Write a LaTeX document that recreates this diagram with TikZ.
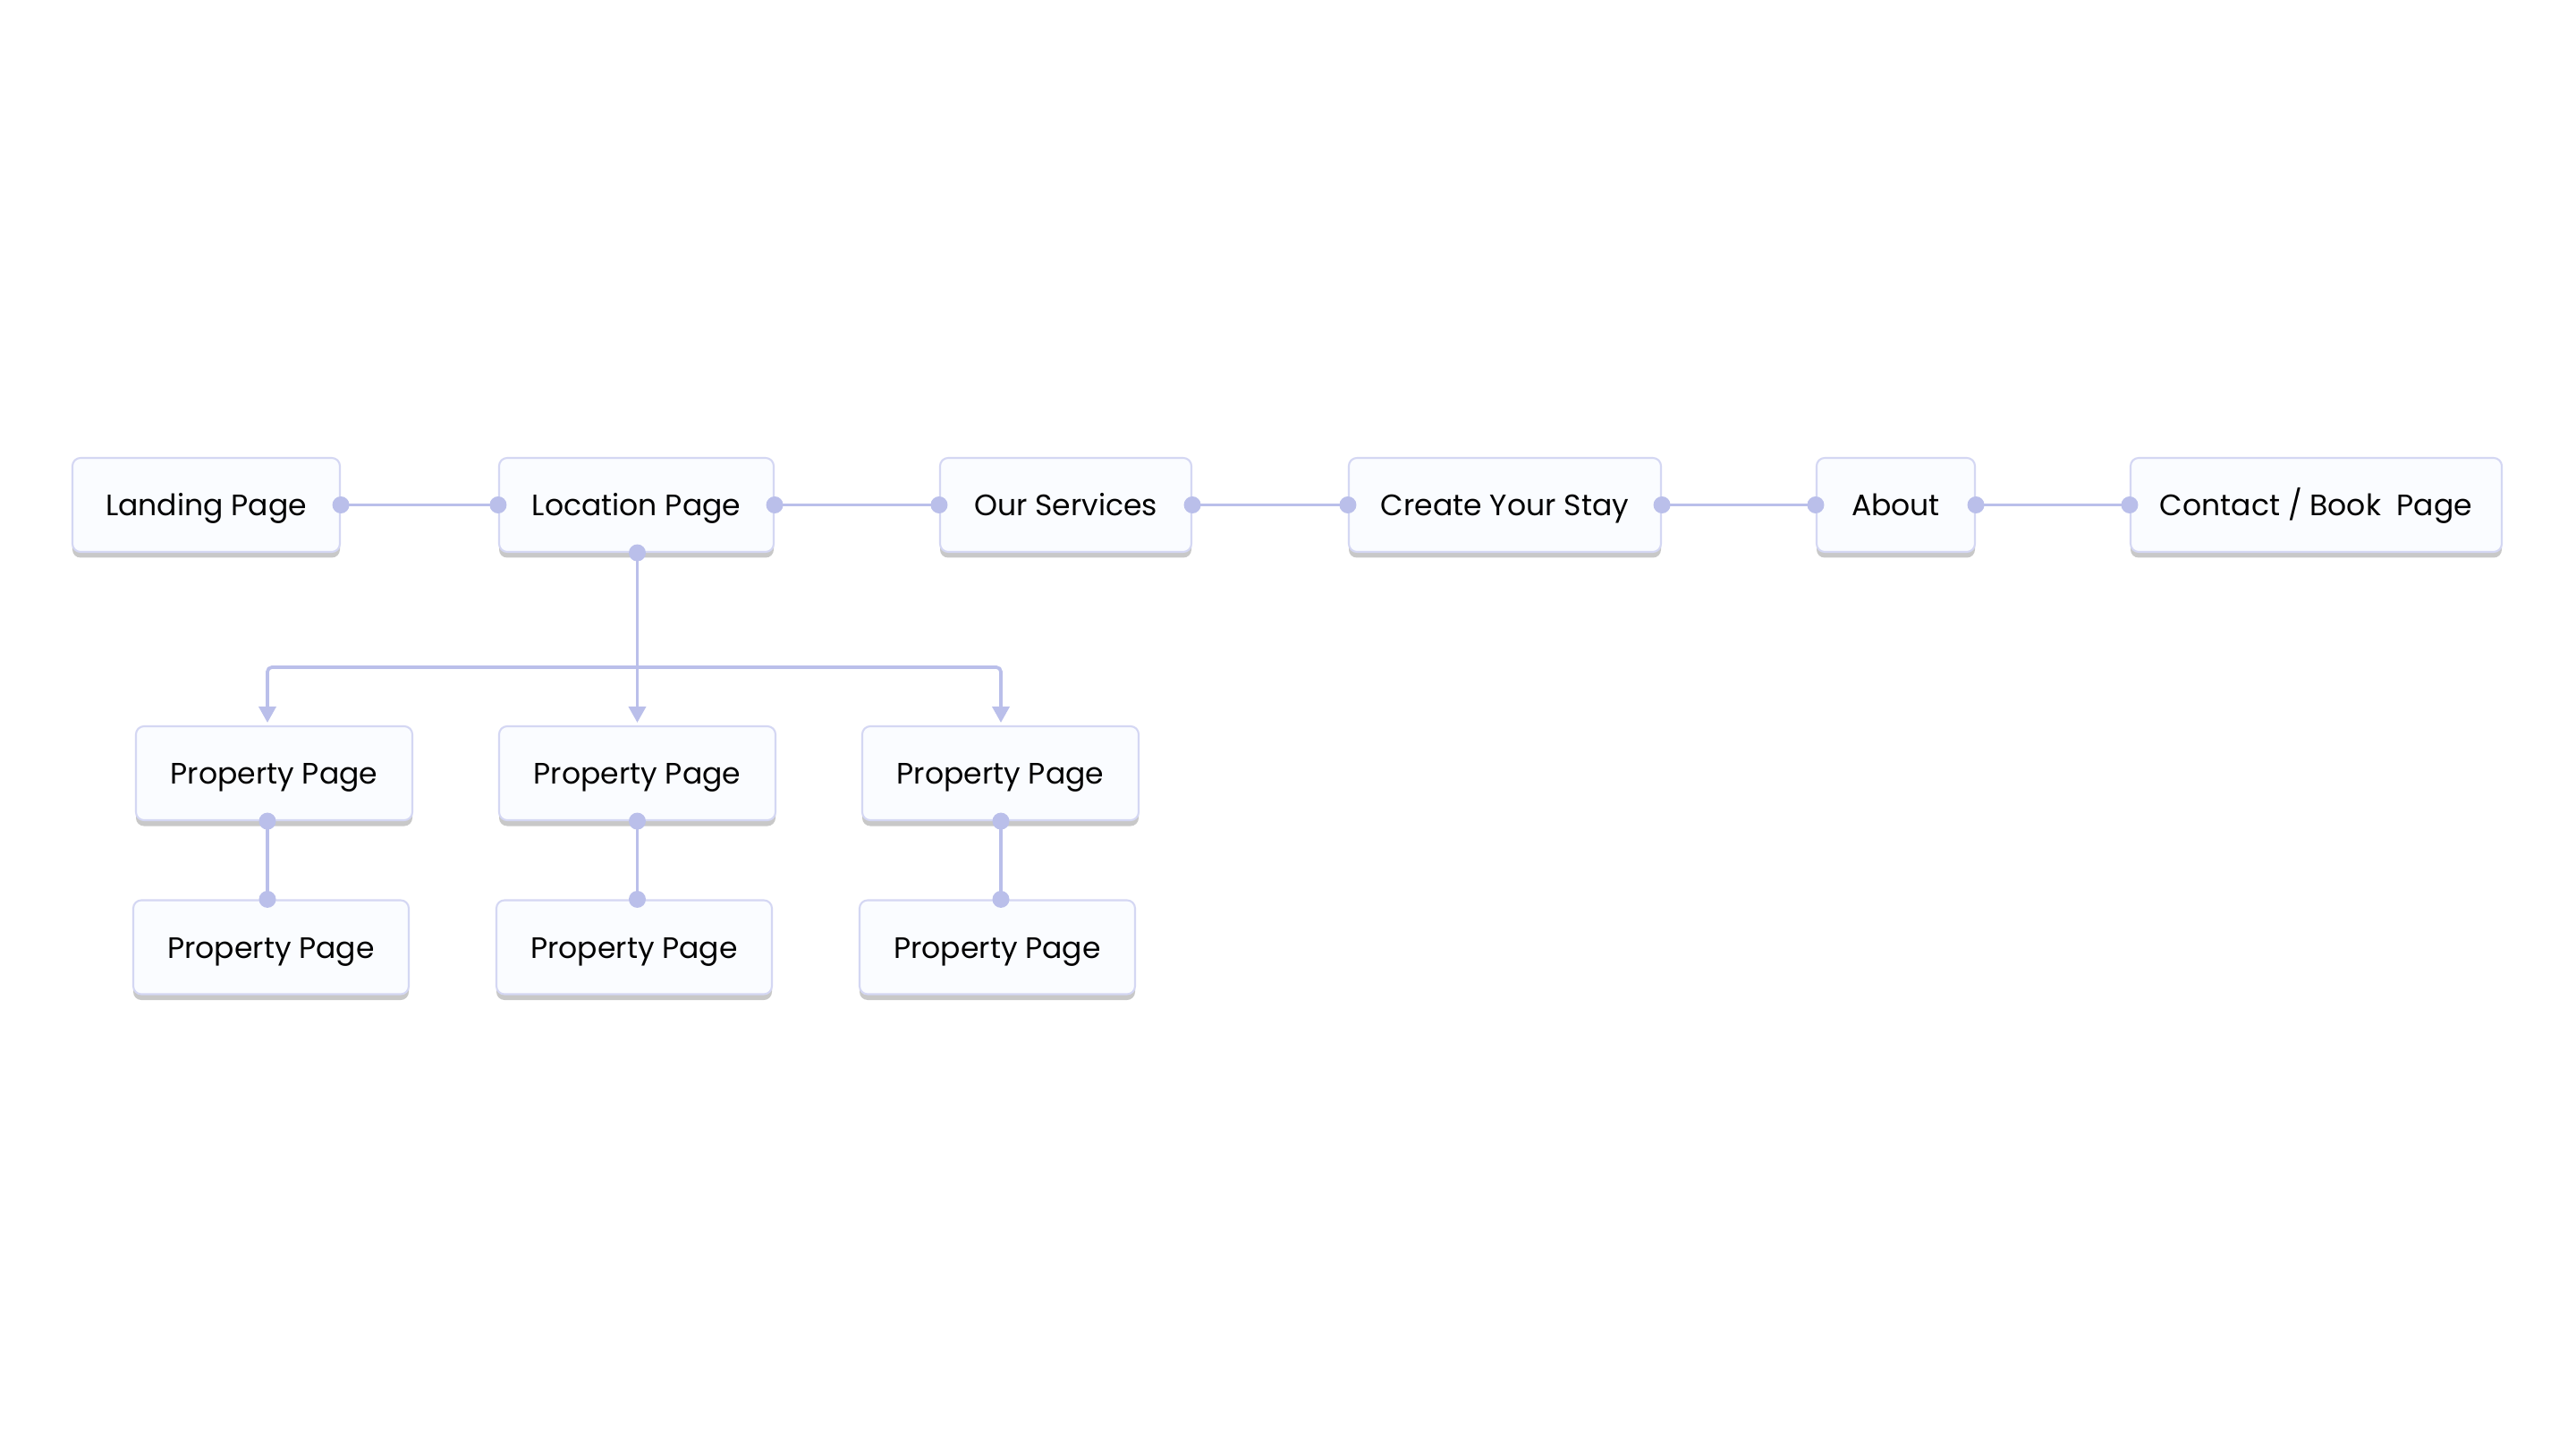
\documentclass[tikz,border=0pt]{standalone}
\usepackage{fontspec}
\setmainfont{Poppins}
\usetikzlibrary{arrows.meta,shadows,calc}
\definecolor{conn}{RGB}{186,191,234}
\definecolor{boxline}{RGB}{212,215,243}
\definecolor{boxfill}{RGB}{250,252,255}
\definecolor{shade}{RGB}{200,200,200}
\begin{document}
\begin{tikzpicture}[x=1cm,y=1cm,
  pagebox/.style={draw=boxline, line width=0.6pt, fill=boxfill, rounded corners=0.09cm,
    minimum height=1.05cm, inner sep=0pt, font=\fontsize{9.4}{11}\selectfont, text=black,
    text height=0.7em, text depth=0pt,
    general shadow={fill=shade, shadow yshift=-0.065cm}},
  link/.style={draw=conn, line width=1.05pt},
  tip/.style={-{Triangle[length=0.18cm,width=0.19cm]}, shorten >=0.03cm},
  dotc/.style={fill=conn}
]
\useasboundingbox (0,0) rectangle (28.8,-16.2);
\fill[white] (0,0) rectangle (28.8,-16.2);

% top row
\node[pagebox, minimum width=2.99cm] (land) at (2.305,-5.645) {Landing Page};
\node[pagebox, minimum width=3.07cm] (loc) at (7.115,-5.645) {Location Page};
\node[pagebox, minimum width=2.81cm] (serv) at (11.915,-5.645) {Our Services};
\node[pagebox, minimum width=3.49cm] (stay) at (16.825,-5.645) {Create Your Stay};
\node[pagebox, minimum width=1.77cm] (about) at (21.195,-5.645) {About};
\node[pagebox, minimum width=4.15cm] (contact) at (25.895,-5.645) {Contact / Book\ \ Page};

% second row
\node[pagebox, minimum width=3.09cm] (p1) at (3.065,-8.645) {Property Page};
\node[pagebox, minimum width=3.09cm] (p2) at (7.125,-8.645) {Property Page};
\node[pagebox, minimum width=3.09cm] (p3) at (11.185,-8.645) {Property Page};

% third row
\node[pagebox, minimum width=3.08cm] (p4) at (3.03,-10.59) {Property Page};
\node[pagebox, minimum width=3.08cm] (p5) at (7.09,-10.59) {Property Page};
\node[pagebox, minimum width=3.08cm] (p6) at (11.15,-10.59) {Property Page};

% columns and bus
\coordinate (colA) at (2.99,0);
\coordinate (colB) at (7.125,0);
\coordinate (colC) at (11.19,0);
\coordinate (bus) at (7.125,-7.46);

% horizontal chain
\draw[link] (land.east) -- (loc.west);
\draw[link] (loc.east) -- (serv.west);
\draw[link] (serv.east) -- (stay.west);
\draw[link] (stay.east) -- (about.west);
\draw[link] (about.east) -- (contact.west);
\foreach \n in {land,loc,serv,stay,about}{\fill[dotc] (\n.east) circle (0.095);}
\foreach \n in {loc,serv,stay,about,contact}{\fill[dotc] (\n.west) circle (0.095);}

% tree
\draw[link] (colB |- loc.south) -- (bus);
\draw[link, tip, rounded corners=0.05cm] (bus) -| (colA |- p1.north);
\draw[link, tip] (bus) -- (colB |- p2.north);
\draw[link, tip, rounded corners=0.05cm] (bus) -| (colC |- p3.north);
\fill[dotc] (colB |- loc.south) circle (0.095);

% verticals
\draw[link] (colA |- p1.south) -- (colA |- p4.north);
\draw[link] (colB |- p2.south) -- (colB |- p5.north);
\draw[link] (colC |- p3.south) -- (colC |- p6.north);
\foreach \c/\a/\b in {colA/p1/p4,colB/p2/p5,colC/p3/p6}{
  \fill[dotc] (\c |- \a.south) circle (0.095);
  \fill[dotc] (\c |- \b.north) circle (0.095);
}
\end{tikzpicture}
\end{document}
